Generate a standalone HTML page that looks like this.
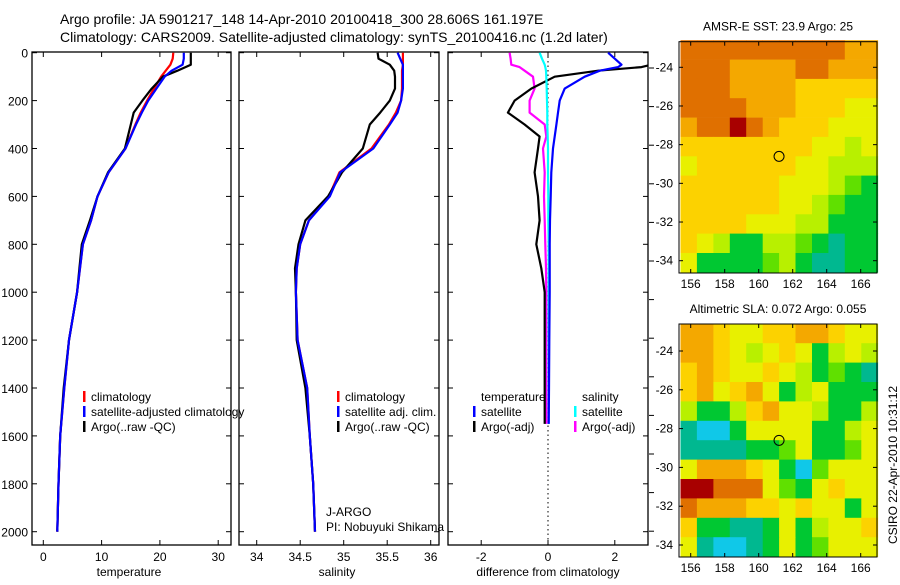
<!DOCTYPE html>
<html><head><meta charset="utf-8"><style>
body{margin:0;background:#fff;width:900px;height:580px;overflow:hidden}
svg{font-family:"Liberation Sans",sans-serif}
</style></head><body>
<svg id="c" width="900" height="580" viewBox="0 0 900 580" xmlns="http://www.w3.org/2000/svg">
<text x="60" y="24" font-size="14">Argo profile: JA 5901217_148 14-Apr-2010 20100418_300 28.606S 161.197E</text>
<text x="60" y="42" font-size="14">Climatology: CARS2009. Satellite-adjusted climatology: synTS_20100416.nc (1.2d later)</text>
</svg>
<script>
const depths=[0,25,50,75,100,150,200,250,300,400,500,600,700,800,900,1000,1200,1400,1600,1800,2000];
const tempClim=[22.3,22.2,21.8,21,20.2,19,17.8,16.7,15.8,14.1,11.2,9.3,8.2,6.8,6.3,5.8,4.4,3.6,2.9,2.6,2.4];
const tempSat=[24.1,24.1,23.9,22,20.8,19.4,18,16.9,15.9,14.1,11.2,9.3,8.2,6.8,6.3,5.8,4.4,3.6,2.9,2.6,2.4];
const tempArgo=[25.3,25.3,25.3,23,20.5,18.6,17,15.5,15,14,11.1,9.3,8.0,6.6,6.2,5.8,4.4,3.5,2.9,2.6,2.4];
const salClim=[35.68,35.68,35.68,35.67,35.67,35.67,35.66,35.6,35.52,35.32,34.95,34.83,34.6,34.5,34.46,34.45,34.47,34.58,34.61,34.65,34.67];
const salSat=[35.62,35.65,35.68,35.68,35.68,35.68,35.66,35.62,35.53,35.34,34.96,34.84,34.6,34.5,34.46,34.45,34.47,34.58,34.61,34.65,34.67];
const salArgo=[35.39,35.4,35.53,35.58,35.59,35.59,35.53,35.42,35.3,35.22,34.98,34.82,34.56,34.48,34.44,34.45,34.46,34.56,34.61,34.65,34.67];
const diffDepths=[0,25,50,60,75,100,150,200,250,300,350,400,500,600,700,800,900,1000,1200,1400,1550];
const dTempSat=[1.8,2.0,2.2,2.1,1.55,1.1,0.5,0.35,0.3,0.25,0.2,0.15,0.1,0.08,0.06,0.05,0.05,0.05,0.04,0.03,0.02];
const dTempArgo=[3.2,3.2,3.1,2.8,1.5,0.2,-0.5,-1.0,-1.2,-0.7,-0.25,-0.3,-0.4,-0.3,-0.25,-0.35,-0.2,-0.1,-0.1,-0.1,-0.1];
const dSalSat=[-0.25,-0.18,-0.1,-0.08,-0.06,-0.05,-0.04,-0.03,-0.02,-0.02,-0.01,0,0,0.01,0.01,0.02,0.02,0.02,0.02,0.02,0.02];
const dSalArgo=[-1.15,-1.12,-1.1,-0.85,-0.7,-0.45,-0.4,-0.55,-0.55,-0.1,-0.05,-0.15,-0.1,-0.12,-0.1,-0.08,-0.06,-0.05,-0.05,-0.05,-0.05];
const depthTicks=[0,200,400,600,800,1000,1200,1400,1600,1800,2000];
const tempTicks=[0,10,20,30];
const salTicks=["34","34.5","35","35.5","36"];
const diffTicks=[-2,0,2];
const lonTicks=[156,158,160,162,164,166];
const latTicks=[-24,-26,-28,-30,-32,-34];
const sstGrid=[
[9,9,9,9,9,9,9,9,9,9,8,8],[9,9,9,8,8,8,8,9,9,8,8,8],[9,9,9,8,8,8,8,7,7,7,7,7],[9,9,9,9,8,8,8,7,7,7,6,6],
[8,9,9,10,9,8,7,7,7,6,6,6],[7,7,7,7,7,7,7,7,6,6,5,6],[6,7,7,7,7,7,7,6,6,5,5,5],[7,7,7,7,7,7,6,6,6,5,4,3],
[7,7,7,7,7,7,6,6,5,4,3,3],[7,7,7,7,6,6,6,5,5,3,3,3],[7,6,5,3,3,5,5,4,3,2,3,3],[6,3,3,3,3,4,5,3,2,2,3,3]];
const slaGrid=[
[8,8,7,6,6,7,7,8,8,7,6,6],[8,8,7,6,5,6,7,6,3,5,6,5],[7,8,7,6,6,7,6,5,3,4,3,2],[7,8,6,7,8,6,3,5,6,3,3,3],
[5,3,3,5,7,8,6,6,5,3,3,5],[2,1,1,3,6,6,6,6,3,3,5,6],[2,2,2,2,3,3,4,6,3,3,4,6],[6,8,8,8,7,6,3,1,4,6,6,6],
[10,10,9,9,9,6,4,3,6,7,6,6],[9,8,8,8,7,7,6,7,6,6,3,6],[7,3,3,2,2,3,6,3,5,6,6,7],[6,2,1,1,2,3,6,3,4,6,6,6]];
const argoLon=161.197, argoLat=-28.606;

const NS="http://www.w3.org/2000/svg", svg=document.getElementById('c');
function mk(t,a,p){const e=document.createElementNS(NS,t);for(const k in a)e.setAttribute(k,a[k]);(p||svg).appendChild(e);return e;}
const yD=d=>52.7+d*0.2395;
const xT=v=>43.3+v*5.83;
const xS=v=>256.7+(v-34)*87;
const xDf=v=>548+v*33.4;
const pTop=52,pBot=545;
const cols=['#0050ff','#10c8e8','#00b890','#00c832','#60e000','#b8f000','#e8f000','#fcd200','#f4a800','#e07000','#a80000'];

function panel(name,x0,x1,xs,ticks,labels,xlabel,xlc,showY){
  const g=mk('g',{});
  const r=mk('rect',{x:x0,y:pTop,width:x1-x0,height:pBot-pTop,fill:'none',stroke:'#000','stroke-width':1.3},g);
  
  depthTicks.forEach(d=>{mk('line',{x1:x0,x2:x0+5,y1:yD(d),y2:yD(d),stroke:'#000'},g);mk('line',{x1:x1-5,x2:x1,y1:yD(d),y2:yD(d),stroke:'#000'},g);
    if(showY){const t=mk('text',{x:28,y:yD(d)+5,'font-size':12,'text-anchor':'end'},g);t.textContent=d;
      }});
  ticks.forEach((v,i)=>{const x=xs(v);mk('line',{x1:x,x2:x,y1:pTop,y2:pTop+5,stroke:'#000'},g);mk('line',{x1:x,x2:x,y1:pBot-5,y2:pBot,stroke:'#000'},g);
    const t=mk('text',{x:x,y:561,'font-size':12,'text-anchor':'middle'},g);t.textContent=labels[i];
    });
  const t=mk('text',{x:xlc,y:576,'font-size':12,'text-anchor':'middle'},g);t.textContent=xlabel;
  
  return g;
}
function line(g,xs,vals,dep,color,w,name,clip){
  const p=mk('polyline',{points:vals.map((v,i)=>xs(v).toFixed(1)+','+yD(dep[i]).toFixed(1)).join(' '),fill:'none',stroke:color,'stroke-width':w,'stroke-linejoin':'round'},g);
  if(clip)p.setAttribute('clip-path','url(#'+clip+')');
  
}
function legend(g,x,y,items){
  items.forEach((it,i)=>{if(it[1])mk('rect',{x:x,y:y+i*15-10,width:2.5,height:11,fill:it[1]},g);
    const t=mk('text',{x:x+8,y:y+i*15,'font-size':12},g);t.textContent=it[0];
    });
}
const defs=mk('defs',{});
const cp=mk('clipPath',{id:'cp3'},defs);mk('rect',{x:448,y:pTop,width:200,height:pBot-pTop},cp);

const g1=panel('temperature-panel',32,231,xT,tempTicks,tempTicks,'temperature',129,true);
line(g1,xT,tempClim,depths,'#f00',2.2,'climatology-temp-line');
line(g1,xT,tempArgo,depths,'#000',2.2,'argo-temp-line');
line(g1,xT,tempSat,depths,'#00f',2.2,'satellite-temp-line');
legend(g1,83,401,[['climatology','#f00'],['satellite-adjusted climatology','#00f'],['Argo(..raw -QC)','#000']]);

const g2=panel('salinity-panel',239,439,xS,salTicks.map(Number),salTicks,'salinity',337,false);
line(g2,xS,salClim,depths,'#f00',2.2,'climatology-sal-line');
line(g2,xS,salArgo,depths,'#000',2.2,'argo-sal-line');
line(g2,xS,salSat,depths,'#00f',2.2,'satellite-sal-line');
legend(g2,337,401,[['climatology','#f00'],['satellite adj. clim.','#00f'],['Argo(..raw -QC)','#000']]);
[['J-ARGO',516],['PI: Nobuyuki Shikama',531]].forEach(a=>{const t=mk('text',{x:326,y:a[1],'font-size':12},g2);t.textContent=a[0];
  });

const g3=panel('difference-panel',448,648,xDf,diffTicks,diffTicks.map(v=>String(v)),'difference from climatology',548,false);
mk('line',{x1:xDf(0),x2:xDf(0),y1:pTop,y2:pBot,stroke:'#000','stroke-dasharray':'1.5,3'},g3);
line(g3,xDf,dSalArgo,diffDepths,'#f0f',2.2,'argo-sal-diff-line','cp3');
line(g3,xDf,dTempArgo,diffDepths,'#000',2.2,'argo-temp-diff-line','cp3');
line(g3,xDf,dSalSat,diffDepths,'#0ff',2.2,'satellite-sal-diff-line','cp3');
line(g3,xDf,dTempSat,diffDepths,'#00f',2.2,'satellite-temp-diff-line','cp3');
legend(g3,473,401,[['temperature',null],['satellite','#00f'],['Argo(-adj)','#000']]);
legend(g3,574,401,[['salinity',null],['satellite','#0ff'],['Argo(-adj)','#f0f']]);
for(let y=68;y<550;y+=38.6)mk('line',{x1:649,x2:654,y1:y,y2:y,stroke:'#000'});

function map(name,y0,y1,latA,latScale,grid,title){
  const g=mk('g',{});
  const x0=679,x1=877;
  const xL=l=>690.7+(l-156)*17;
  const yL=l=>latA+(-24-l)*latScale;
  const nc=grid[0].length,dl=11.6/nc;
  grid.forEach((row,j)=>row.forEach((v,i)=>{
    const xa=xL(155.4+i*dl),xb=xL(155.4+(i+1)*dl),ya=yL(-22.6-j),yb=yL(-23.6-j);
    const c=mk('rect',{x:xa.toFixed(1),y:ya.toFixed(1),width:(xb-xa+0.4).toFixed(1),height:(yb-ya+0.4).toFixed(1),fill:cols[v]},g);
    }));
  const f=mk('rect',{x:x0,y:y0,width:x1-x0,height:y1-y0,fill:'none',stroke:'#000'},g);
  
  lonTicks.forEach(l=>{const x=xL(l);mk('line',{x1:x,x2:x,y1:y0,y2:y0+4,stroke:'#000'},g);mk('line',{x1:x,x2:x,y1:y1-4,y2:y1,stroke:'#000'},g);
    const t=mk('text',{x:x,y:y1+15,'font-size':12,'text-anchor':'middle'},g);t.textContent=l;
    });
  latTicks.forEach(l=>{const y=yL(l);mk('line',{x1:x0,x2:x0+4,y1:y,y2:y,stroke:'#000'},g);mk('line',{x1:x1-4,x2:x1,y1:y,y2:y,stroke:'#000'},g);
    const t=mk('text',{x:673,y:y+4,'font-size':12,'text-anchor':'end'},g);t.textContent=String(l);
    });
  const c=mk('circle',{cx:xL(argoLon),cy:yL(argoLat),r:5,fill:'none',stroke:'#000','stroke-width':1},g);
  
  const t=mk('text',{x:778,y:y0-11,'font-size':12,'text-anchor':'middle'},g);t.textContent=title;
  
}
map('sst-map',41.7,273,67.3,19.34,sstGrid,'AMSR-E SST: 23.9 Argo: 25');
map('sla-map',324,557,351,19.4,slaGrid,'Altimetric SLA: 0.072 Argo: 0.055');
const ct=mk('text',{x:0,y:0,'font-size':12,'text-anchor':'middle',transform:'translate(897,465) rotate(-90)'});
ct.textContent='CSIRO 22-Apr-2010 10:31:12';

</script>
</body></html>
